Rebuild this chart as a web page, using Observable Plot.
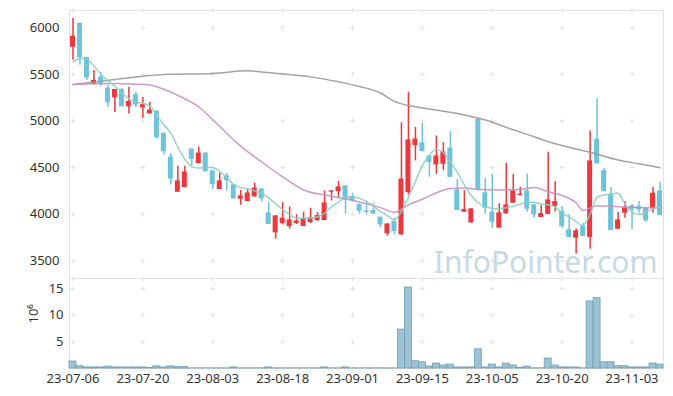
<!DOCTYPE html>
<html><head><meta charset="utf-8">
<script src="https://cdn.jsdelivr.net/npm/d3@7"></script>
<script src="https://cdn.jsdelivr.net/npm/@observablehq/plot@0.6"></script>
<style>
body{margin:0;background:#fff;}
#chart{position:relative;width:673px;height:396px;overflow:hidden;}
#chart svg{position:absolute;left:0;}
</style>
</head><body><div id="chart"></div>
<script>
const dates = ["23-07-06","23-07-07","23-07-10","23-07-11","23-07-12","23-07-13","23-07-14","23-07-17","23-07-18","23-07-19",
"23-07-20","23-07-21","23-07-24","23-07-25","23-07-26","23-07-27","23-07-28","23-07-31","23-08-01","23-08-02",
"23-08-03","23-08-04","23-08-07","23-08-08","23-08-09","23-08-10","23-08-11","23-08-14","23-08-16","23-08-17",
"23-08-18","23-08-21","23-08-22","23-08-23","23-08-24","23-08-25","23-08-28","23-08-29","23-08-30","23-08-31",
"23-09-01","23-09-04","23-09-05","23-09-06","23-09-07","23-09-08","23-09-11","23-09-12","23-09-13","23-09-14",
"23-09-15","23-09-18","23-09-19","23-09-20","23-09-21","23-09-22","23-09-25","23-09-26","23-09-27","23-10-04",
"23-10-05","23-10-06","23-10-10","23-10-11","23-10-12","23-10-13","23-10-16","23-10-17","23-10-18","23-10-19",
"23-10-20","23-10-23","23-10-24","23-10-25","23-10-26","23-10-27","23-10-30","23-10-31","23-11-01","23-11-02",
"23-11-03","23-11-06","23-11-07","23-11-08","23-11-09"];

const open = [5791,6048,5681,5392,5470,5352,5248,5338,5152,5281,5141,5077,5106,4867,4613,4235,4285,4699,4542,4656,
4464,4264,4410,4314,4161,4135,4185,4271,4014,3800,3900,3867,3900,3867,3910,3932,3932,4235,4242,4303,
4182,4103,4035,4039,3968,3789,3921,3778,4232,4735,4767,4624,4528,4535,4710,4260,4021,3907,5017,4228,
4021,3850,4003,4118,4199,4250,4100,3964,3996,4082,4035,3832,3743,3867,3750,4806,4467,4214,3839,4010,
4089,4082,4064,4064,4250];
const high = [6098,6048,5681,5542,5516,5380,5338,5345,5360,5306,5253,5199,5106,4870,4649,4514,4514,4699,4721,4656,
4464,4439,4439,4314,4257,4268,4335,4271,4124,3982,4124,4078,3993,4021,4064,4018,4250,4250,4353,4303,
4225,4110,4135,4118,3968,3896,3957,4981,5306,4931,4974,4630,4839,4767,4884,4371,4253,4060,5017,4385,
4428,4114,4546,4428,4289,4428,4100,4093,4664,4350,4082,3993,3842,3903,4892,5242,4492,4285,4018,4135,
4103,4135,4064,4285,4342];
const low = [5652,5598,5438,5385,5366,5145,5092,5152,5074,5141,5028,5071,4806,4635,4314,4235,4285,4517,4542,4450,
4268,4264,4250,4164,4096,4135,4185,4132,3889,3732,3885,3839,3889,3867,3900,3921,3932,4142,4171,4000,
4130,4003,3993,3995,3857,3764,3778,3770,4207,4571,4670,4396,4428,4467,4396,4039,4021,3900,4253,4000,
3850,3850,4000,4118,4199,4021,3957,3964,3996,4028,3850,3750,3572,3760,3625,4539,4242,3825,3839,3957,
3832,4010,3914,4010,3986];
const close = [5909,5681,5463,5435,5392,5195,5338,5152,5210,5170,5174,5117,4820,4670,4375,4357,4453,4585,4656,4456,
4318,4357,4360,4164,4196,4228,4282,4164,3889,3982,3957,3939,3928,3953,3960,3985,4121,4250,4292,4150,
4142,4032,4020,4003,3885,3896,3814,4378,4796,4806,4670,4553,4624,4667,4396,4039,4050,4057,4253,4064,
3914,4014,4100,4250,4214,4053,3993,4007,4153,4135,3867,3750,3821,3760,4571,4539,4242,3825,3939,4071,
4046,4046,3928,4225,3986];
// volume in millions of shares
const volume = [1.31,0.43,0.2,0.2,0.2,0.35,0.2,0.2,0.2,0.2,0.2,0.08,0.4,0.2,0.4,0.25,0.25,0.03,0.03,0.03,
0.03,0.03,0.03,0.2,0.03,0.03,0.03,0.03,0.2,0.03,0.03,0.03,0.03,0.03,0.03,0.03,0.2,0.03,0.03,0.2,
0.03,0.03,0.03,0.03,0.03,0.03,0.03,7.3,15.2,1.37,1.17,0.37,0.93,0.56,0.74,0.2,0.2,0.2,3.6,0.2,
0.74,0.2,0.93,0.56,0.15,0.37,0.04,0.04,1.87,0.56,0.2,0.2,0.2,0.04,12.6,13.2,1.17,1.17,0.43,0.43,
0.2,0.2,0.2,0.93,0.74];
const ma5 = [5634,5670,5660,5590,5500,5430,5374,5300,5240,5200,5190,5160,5060,4960,4870,4720,4590,4510,4495,4500,
4500,4460,4390,4320,4285,4272,4250,4225,4175,4110,4050,3993,3960,3955,3958,3972,4010,4080,4130,4180,
4189,4171,4135,4085,4030,3985,3939,4030,4180,4350,4520,4635,4696,4660,4560,4450,4314,4200,4120,4082,
4060,4060,4070,4085,4110,4125,4128,4110,4100,4080,4010,3970,3920,3878,4000,4180,4205,4215,4225,4110,
4020,3998,4020,4057,4071];
const ma20Idx = [0,3,6,9,11,13,15,18,21,24,27,30,33,36,39,42,44,46,48,50,52,54,56,58,61,64,66,68,70,72,73,75,78,81,84];
const ma20Val = [5392,5398,5403,5395,5385,5340,5275,5150,4940,4730,4560,4400,4260,4205,4165,4110,4070,4021,4100,4160,4230,4275,4280,4265,4260,4265,4285,4240,4200,4120,4040,4090,4080,4071,4064];
const ma60Idx = [0,5,10,13,20,25,27,30,34,38,41,44,46,48,50,55,59,63,66,69,72,74,78,81,84];
const ma60Val = [5392,5435,5480,5499,5510,5538,5526,5505,5473,5420,5370,5300,5210,5165,5140,5081,5010,4905,4830,4755,4700,4664,4581,4540,4499];

const priceTicks = [3500,4000,4500,5000,5500,6000];
const volTicks = [5,10,15];
const xTickIdx = [0,10,20,30,40,50,60,70,80];

const UP = "#ef363c", DOWN = "#6cc3da";
const candles = dates.map((d,i)=>({date:d, open:open[i], high:high[i], low:low[i], close:close[i], vol:volume[i]}));
const colorOf = d => d.close >= d.open ? UP : DOWN;
const tickDates = xTickIdx.map(i=>dates[i]);
const ma5Data = dates.map((d,i)=>({date:d, v:ma5[i]}));
const ma20Data = ma20Idx.map((i,k)=>({date:dates[i], v:ma20Val[k]}));
const ma60Data = ma60Idx.map((i,k)=>({date:dates[i], v:ma60Val[k]}));

const yDom = [3310, 6185];
const vDom = [0, 16.9];
const priceCross = tickDates.flatMap(d => [...priceTicks, yDom[0], yDom[1]].map(v=>({date:d, v})));
const volCross = tickDates.flatMap(d => [0, ...volTicks].map(v=>({date:d, v})));

const common = {
  width: 673, marginLeft: 69, marginRight: 10,
  style: {fontFamily: "'Noto Sans', sans-serif", fontSize: "13px", color: "#333", background: "transparent", overflow: "visible"}
};

const pricePlot = Plot.plot({
  ...common,
  height: 279, marginTop: 10, marginBottom: 1,
  x: {type: "band", domain: dates, padding: 0, axis: null, label: null},
  y: {domain: yDom, axis: null, label: null},
  marks: [
    Plot.frame({stroke: "#e2e2e2"}),
    Plot.dot(priceCross, {x: "date", y: "v", symbol: "plus", r: 1.8, stroke: "#e2e2e2", strokeWidth: 1}),
    Plot.text(["InfoPointer.com"], {frameAnchor: "bottom-right", text: d => d, fontSize: 30, fill: "#c6d9e5", dx: -6, dy: -6, lineAnchor: "bottom"}),
    Plot.ruleX(candles, {x: "date", y1: "low", y2: "high", stroke: colorOf, strokeWidth: 1.5}),
    Plot.barY(candles, {x: "date", y1: "open", y2: "close", fill: colorOf, insetLeft: 1, insetRight: 1}),
    Plot.line(ma60Data, {x: "date", y: "v", stroke: "#999999", strokeWidth: 1.5, curve: "monotone-x", strokeOpacity: 0.9}),
    Plot.line(ma20Data, {x: "date", y: "v", stroke: "#c88ec5", strokeWidth: 1.5, curve: "monotone-x", strokeOpacity: 0.9}),
    Plot.line(ma5Data, {x: "date", y: "v", stroke: "#8ccfc5", strokeWidth: 1.5, curve: "catmull-rom", strokeOpacity: 0.9}),
    Plot.axisY(priceTicks, {tickSize: 0, tickPadding: 10, fontSize: 13, tickFormat: d => String(d), label: null})
  ]
});
pricePlot.style.top = "0px";

const volumePlot = Plot.plot({
  ...common,
  height: 120, marginTop: 2, marginBottom: 28,
  x: {type: "band", domain: dates, padding: 0, label: null},
  y: {domain: vDom, axis: null, label: null},
  marks: [
    Plot.frame({stroke: "#e2e2e2"}),
    Plot.dot(volCross, {x: "date", y: "v", symbol: "plus", r: 1.8, stroke: "#e2e2e2", strokeWidth: 1}),
    Plot.barY(candles, {x: "date", y: "vol", fill: "#9cc3d4", stroke: "#6f9fb6", strokeWidth: 0.8}),
    Plot.axisY(volTicks, {tickSize: 0, tickPadding: 6, fontSize: 13, label: null}),
    Plot.axisX(tickDates, {tickSize: 0, tickPadding: 5, fontSize: 13, label: null}),
    Plot.text(["10⁶"], {frameAnchor: "left", text: d => d, dx: -36, rotate: -90, fontSize: 13, fill: "#333"})
  ]
});
volumePlot.style.top = "276px";

const root = document.getElementById("chart");
root.appendChild(pricePlot);
root.appendChild(volumePlot);
</script>
</body></html>
